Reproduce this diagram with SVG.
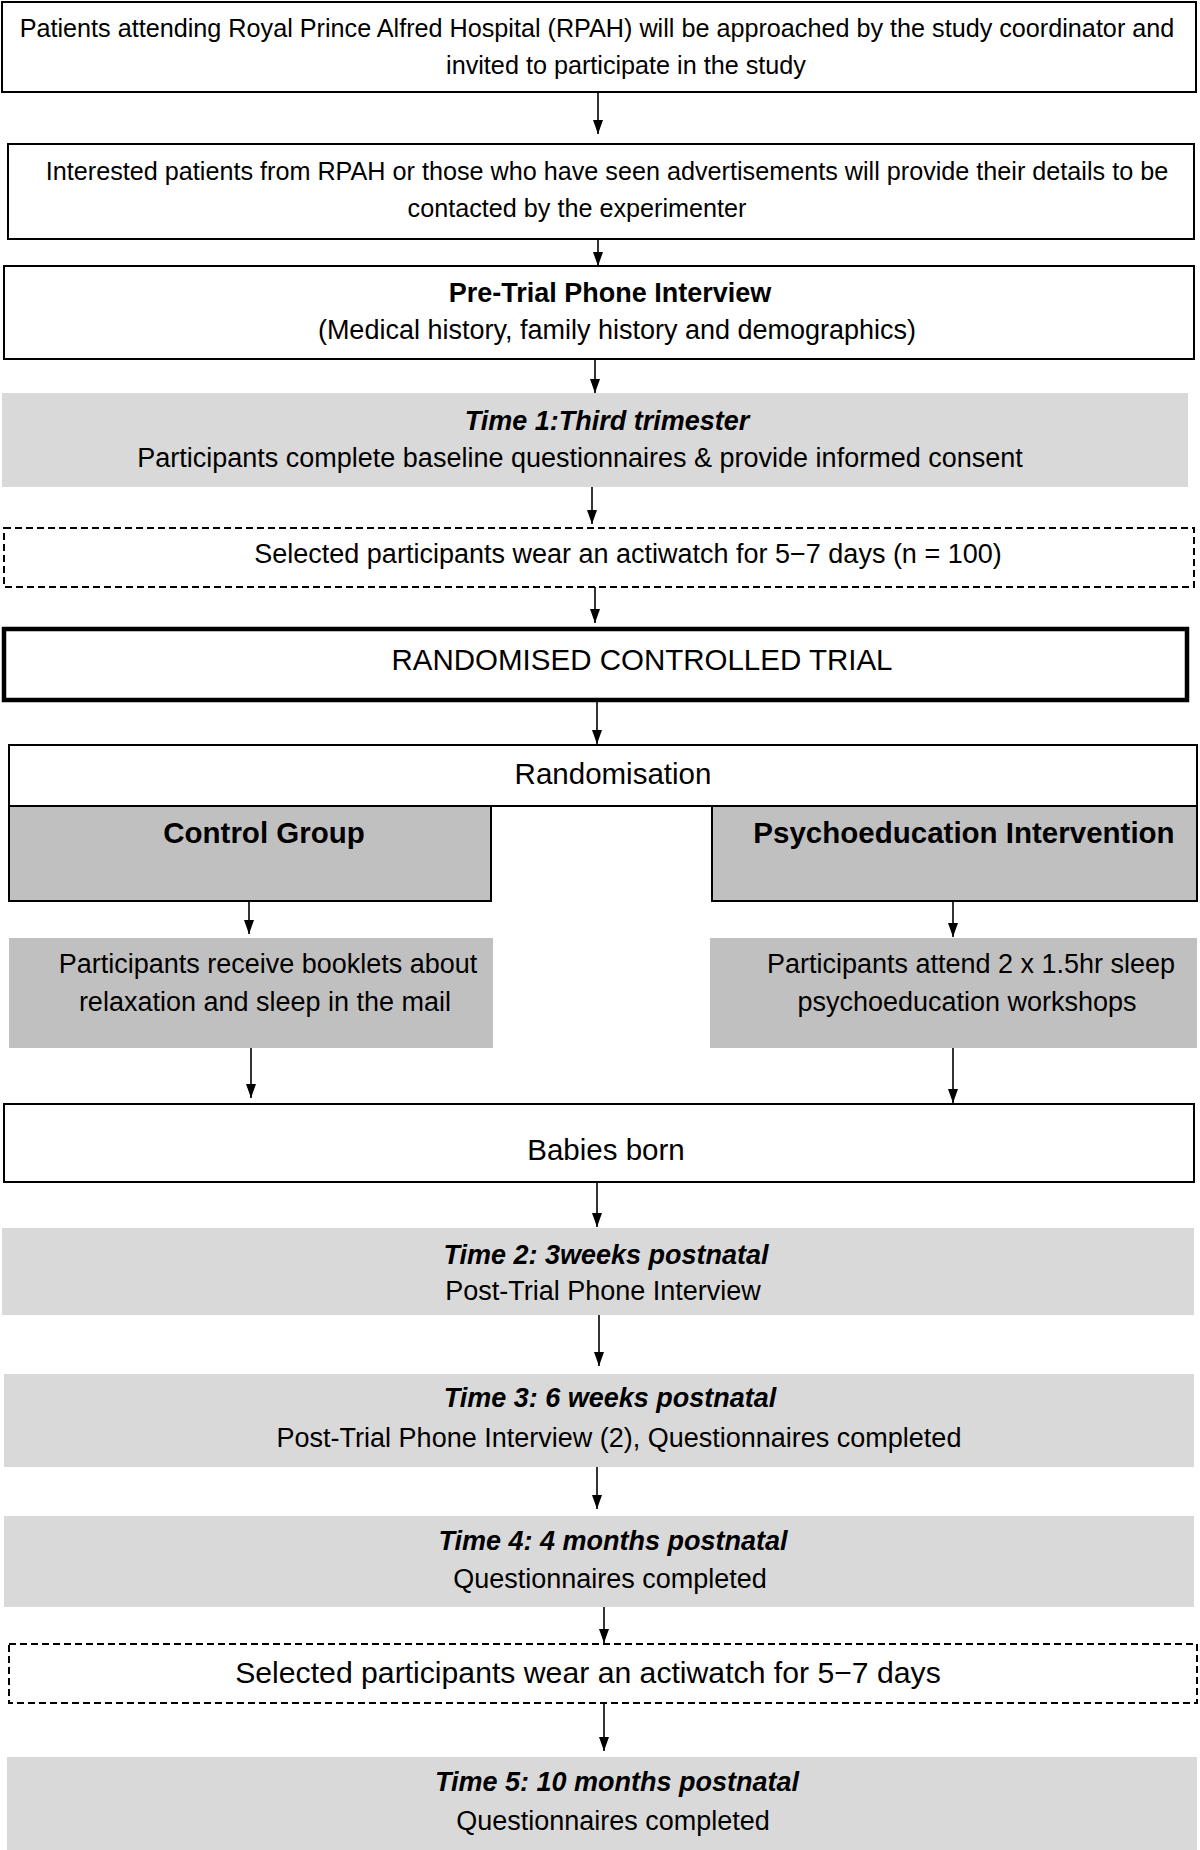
<svg xmlns="http://www.w3.org/2000/svg" width="1200" height="1850" viewBox="0 0 1200 1850">
<defs>
<marker id="ah" viewBox="0 0 14 10" markerWidth="14" markerHeight="10" refX="14" refY="5" orient="auto" markerUnits="userSpaceOnUse">
<path d="M0,0 L14,5 L0,10 z" fill="#000"/>
</marker>
<style>
text{font-family:"Liberation Sans",Arial,Helvetica,sans-serif;fill:#000;text-anchor:middle}
.s{font-size:25.2px}
.t{font-size:27px}
.b{font-size:27px;font-weight:bold}
.bi{font-size:27px;font-weight:bold;font-style:italic}
.L{font-size:29.5px}
.LB{font-size:29.5px;font-weight:bold}
.w{fill:#fff;stroke:#000;stroke-width:2}
.g1{fill:#d9d9d9}
.g2{fill:#c0c0c0}
.g2s{fill:#c0c0c0;stroke:#000;stroke-width:2}
.d{fill:#fff;stroke:#000;stroke-width:2;stroke-dasharray:7,4}
.c line{stroke:#000;stroke-width:1.6;marker-end:url(#ah)}
</style>
</defs>
<rect width="1200" height="1850" fill="#fff"/>

<g id="n1">
<rect class="w" x="2" y="2" width="1194" height="90"/>
<text class="s" x="597" y="37">Patients attending Royal Prince Alfred Hospital (RPAH) will be approached by the study coordinator and</text>
<text class="s" x="626" y="74">invited to participate in the study</text>
</g>
<g id="n2">
<rect class="w" x="8" y="144" width="1186" height="95"/>
<text class="s" x="607" y="180">Interested patients from RPAH or those who have seen advertisements will provide their details to be</text>
<text class="s" x="577" y="217">contacted by the experimenter</text>
</g>
<g id="n3">
<rect class="w" x="4" y="266" width="1190" height="93"/>
<text class="b" x="610" y="302">Pre-Trial Phone Interview</text>
<text class="t" x="617" y="339">(Medical history, family history and demographics)</text>
</g>
<g id="n4">
<rect class="g1" x="2" y="393" width="1186" height="94"/>
<text class="bi" x="607" y="430">Time 1:Third trimester</text>
<text class="t" x="580" y="467">Participants complete baseline questionnaires &amp; provide informed consent</text>
</g>
<g id="n5">
<rect class="d" x="4" y="528" width="1190" height="59"/>
<text class="t" x="628" y="563">Selected participants wear an actiwatch for 5−7 days (n = 100)</text>
</g>
<g id="n6">
<rect x="4" y="629" width="1183" height="71" fill="#fff" stroke="#000" stroke-width="4.5"/>
<text class="L" x="642" y="670">RANDOMISED CONTROLLED TRIAL</text>
</g>
<g id="n7">
<rect class="w" x="9" y="745" width="1188" height="61"/>
<text class="L" x="613" y="784">Randomisation</text>
</g>
<g id="n8">
<rect class="g2s" x="9" y="806" width="482" height="95"/>
<text class="LB" x="264" y="843">Control Group</text>
</g>
<g id="n9">
<rect class="g2s" x="712" y="806" width="485" height="95"/>
<text class="LB" x="964" y="843">Psychoeducation Intervention</text>
</g>
<g id="n10">
<rect class="g2" x="9" y="938" width="484" height="110"/>
<text class="t" x="268" y="973">Participants receive booklets about</text>
<text class="t" x="265" y="1011">relaxation and sleep in the mail</text>
</g>
<g id="n11">
<rect class="g2" x="710" y="938" width="487" height="110"/>
<text class="t" x="971" y="973">Participants attend 2 x 1.5hr sleep</text>
<text class="t" x="967" y="1011">psychoeducation workshops</text>
</g>
<g id="n12">
<rect class="w" x="4" y="1104" width="1190" height="78"/>
<text class="L" x="606" y="1160">Babies born</text>
</g>
<g id="n13">
<rect class="g1" x="2" y="1228" width="1192" height="87"/>
<text class="bi" x="606" y="1264">Time 2: 3weeks postnatal</text>
<text class="t" x="603" y="1300">Post-Trial Phone Interview</text>
</g>
<g id="n14">
<rect class="g1" x="4" y="1374" width="1190" height="93"/>
<text class="bi" x="610" y="1407">Time 3: 6 weeks postnatal</text>
<text class="t" x="619" y="1447">Post-Trial Phone Interview (2), Questionnaires completed</text>
</g>
<g id="n15">
<rect class="g1" x="4" y="1516" width="1190" height="91"/>
<text class="bi" x="613" y="1550">Time 4: 4 months postnatal</text>
<text class="t" x="610" y="1588">Questionnaires completed</text>
</g>
<g id="n16">
<rect class="d" x="9" y="1644" width="1188" height="59"/>
<text x="588" y="1683" font-size="30.2">Selected participants wear an actiwatch for 5−7 days</text>
</g>
<g id="n17">
<rect class="g1" x="7" y="1757" width="1190" height="100"/>
<text class="bi" x="617" y="1791">Time 5: 10 months postnatal</text>
<text class="t" x="613" y="1830">Questionnaires completed</text>
</g>

<g id="connectors" class="c">
<line x1="598" y1="92" x2="598" y2="134"/>
<line x1="598" y1="239" x2="598" y2="266"/>
<line x1="595" y1="359" x2="595" y2="393"/>
<line x1="592" y1="487" x2="592" y2="524"/>
<line x1="595" y1="587" x2="595" y2="623"/>
<line x1="597" y1="701" x2="597" y2="744"/>
<line x1="249" y1="901" x2="249" y2="934"/>
<line x1="953" y1="901" x2="953" y2="937"/>
<line x1="251" y1="1048" x2="251" y2="1098"/>
<line x1="953" y1="1048" x2="953" y2="1103"/>
<line x1="597" y1="1182" x2="597" y2="1227"/>
<line x1="599" y1="1315" x2="599" y2="1366"/>
<line x1="597" y1="1467" x2="597" y2="1509"/>
<line x1="604" y1="1607" x2="604" y2="1643"/>
<line x1="604" y1="1703" x2="604" y2="1751"/>
</g>
</svg>
